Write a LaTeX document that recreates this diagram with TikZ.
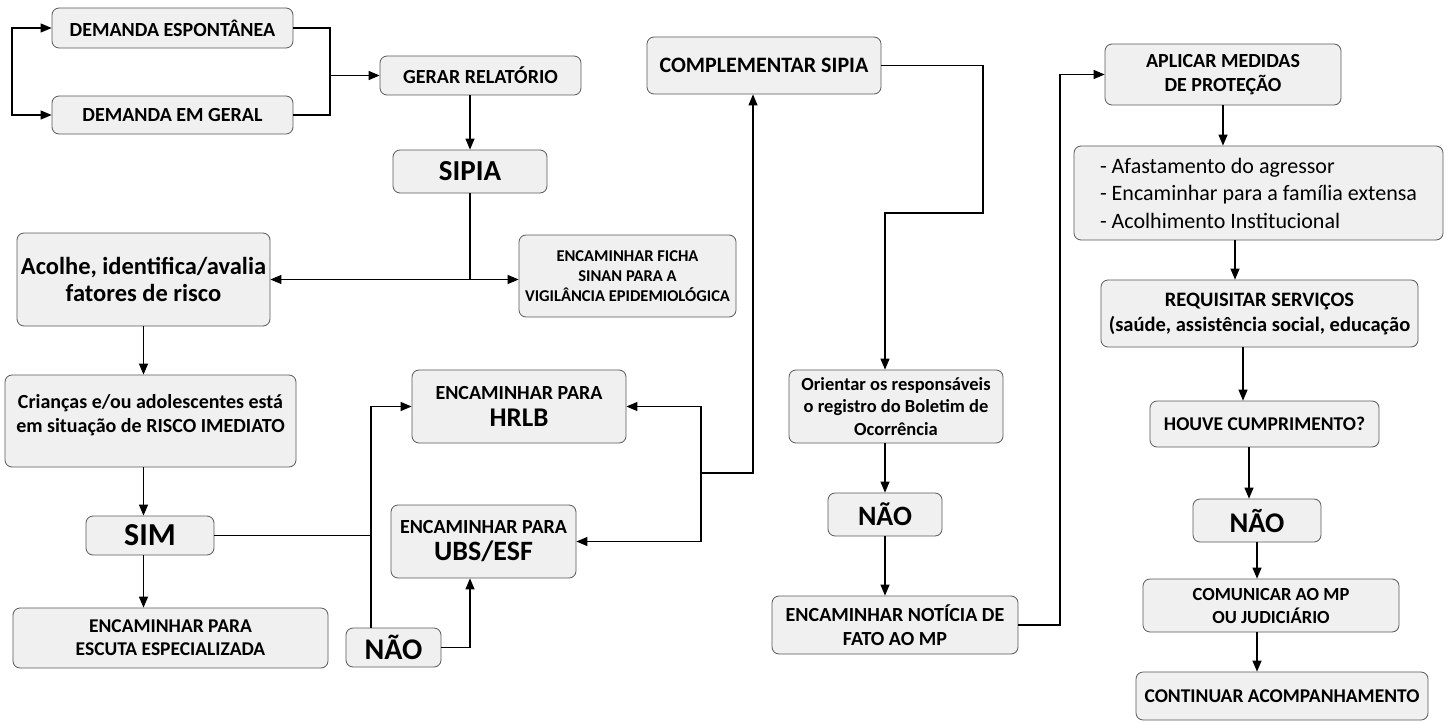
\documentclass[tikz,border=0pt]{standalone}
\usepackage{fontspec}
\setmainfont{Carlito}
\usetikzlibrary{arrows.meta,calc}

\newcommand{\fs}[2]{\fontsize{#1}{#2}\selectfont}

\tikzset{
  box/.style={draw=black!65, fill=black!6, rounded corners=7pt, line width=0.8pt,
    inner sep=0pt, align=center, font=\bfseries\fs{20}{24}},
  conn/.style={line width=1.2pt, black},
  arr/.style={conn, -{Triangle[length=11pt,width=9pt]}},
  dbl/.style={conn, {Triangle[length=11pt,width=9pt]}-{Triangle[length=11pt,width=9pt]}},
  txt/.style={inner sep=0pt, align=center, font=\bfseries\fs{20}{24}},
}

\begin{document}
\begin{tikzpicture}[x=1pt,y=-1pt]
\fill[white] (0,0) rectangle (1455,722);
\useasboundingbox (0,0) rectangle (1455,722);

% ---------- entry column ----------
\node[box, minimum width=241, minimum height=40] (es) at (172.5,28) {DEMANDA ESPONTÂNEA};
\node[box, minimum width=241, minimum height=38] (ge) at (172.5,115) {DEMANDA EM GERAL};
\node[box, minimum width=201, minimum height=39] (gerar) at (480.5,75.5) {GERAR RELATÓRIO};
\node[box, minimum width=154, minimum height=43, font=\bfseries\fs{29}{34}] (sipia) at (470,171.5) {SIPIA};
\node[box, minimum width=253, minimum height=93, font=\bfseries\fs{24.5}{27}] (acolhe) at (143.5,279.5) {Acolhe, identifica/avalia\\fatores de risco};
\node[box, minimum width=217, minimum height=82, font=\bfseries\fs{16.5}{20}] (ficha) at (627.5,276) {ENCAMINHAR FICHA\\SINAN PARA A\\VIGILÂNCIA EPIDEMIOLÓGICA};

% ---------- risk assessment ----------
\node[box, minimum width=291, minimum height=92] (crianca) at (150.5,421) {};
\node[txt] (criancatxt) at (150.5,415) {Crianças e/ou adolescentes está\\em situação de RISCO IMEDIATO};
\node[box, minimum width=128, minimum height=39, font=\bfseries\fs{32}{34}] (sim) at (150,535.5) {SIM};
\node[box, minimum width=315, minimum height=60, font=\bfseries\fs{19.5}{23}] (escuta) at (170.5,638) {ENCAMINHAR PARA\\ESCUTA ESPECIALIZADA};
\node[box, minimum width=214, minimum height=73] (hrlb) at (519,406.5) {ENCAMINHAR PARA\\[3pt]{\fs{27}{30}HRLB}};
\node[box, minimum width=185, minimum height=73] (ubs) at (483.5,541.5) {ENCAMINHAR PARA\\[3pt]{\fs{28}{30}UBS/ESF}};
\node[box, minimum width=95, minimum height=39, font=\bfseries\fs{30}{34}] (nao1) at (393.5,647.5) {NÃO};

% ---------- notification column ----------
\node[box, minimum width=234, minimum height=57, font=\bfseries\fs{22}{26}] (comp) at (764,65.5) {COMPLEMENTAR SIPIA};
\node[box, minimum width=214, minimum height=73, font=\bfseries\fs{18.5}{22.5}] (orient) at (896,406.5) {Orientar os responsáveis\\o registro do Boletim de\\Ocorrência};
\node[box, minimum width=114, minimum height=43, font=\bfseries\fs{28}{32}] (nao2) at (885,514.5) {NÃO};
\node[box, minimum width=246, minimum height=58] (noticia) at (895,625) {ENCAMINHAR NOTÍCIA DE\\FATO AO MP};

% ---------- protection column ----------
\node[box, minimum width=236, minimum height=61] (aplicar) at (1223,74.5) {APLICAR MEDIDAS\\DE PROTEÇÃO};
\node[box, minimum width=369, minimum height=94, align=left, font=\fs{22}{27.5}] (list) at (1258.5,193) {- Afastamento do agressor\\- Encaminhar para a família extensa\\- Acolhimento Institucional};
\node[box, minimum width=317, minimum height=67, font=\bfseries\fs{20.5}{25}] (req) at (1259.5,313.5) {REQUISITAR SERVIÇOS\\(saúde, assistência social, educação};
\node[box, minimum width=229, minimum height=46, font=\bfseries\fs{19.5}{23}] (houve) at (1264.5,424) {HOUVE CUMPRIMENTO?};
\node[box, minimum width=128, minimum height=43, font=\bfseries\fs{28.5}{32}] (nao3) at (1257,520.5) {NÃO};
\node[box, minimum width=256, minimum height=53, font=\bfseries\fs{18.5}{23}] (comunicar) at (1271,605.5) {COMUNICAR AO MP\\OU JUDICIÁRIO};
\node[box, minimum width=292, minimum height=48, font=\bfseries\fs{19.5}{23}] (continuar) at (1282,696) {CONTINUAR ACOMPANHAMENTO};

% ---------- helper x positions for routing ----------
\coordinate (lx) at (12,0);
\coordinate (rx) at (330,0);
\coordinate (vx) at (371,0);
\coordinate (ux) at (470,0);
\coordinate (bx) at (701,0);
\coordinate (cx) at (753,0);
\coordinate (kx) at (983,0);
\coordinate (ky) at (0,213);
\coordinate (by) at (0,473);
\coordinate (ax) at (1060,0);

% ---------- connectors ----------
\draw[dbl] (es.west) -| (lx |- es.west) |- (ge.west);
\draw[conn] (es.east) -| (rx |- gerar.west);
\draw[conn] (ge.east) -| (rx |- gerar.west);
\draw[arr] (rx |- gerar.west) -- (gerar.west);
\draw[arr] (sipia.north |- gerar.south) -- (sipia.north);

\coordinate (sj) at (sipia.south |- acolhe.east);
\draw[conn] (sipia.south) -- (sj);
\draw[arr] (sj) -- (acolhe.east);
\draw[arr] (sj) -- (ficha.west |- sj);

\draw[arr] (acolhe.south) -- (acolhe.south |- crianca.north);
\draw[arr] (acolhe.south |- crianca.south) -- (acolhe.south |- sim.north);
\draw[arr] (acolhe.south |- sim.south) -- (acolhe.south |- escuta.north);

\draw[conn] (sim.east) -- (vx |- sim.east);
\draw[arr] (vx |- nao1.north) |- (hrlb.west);
\draw[arr] (nao1.east) -| (ux |- ubs.south);

\coordinate (bj) at (bx |- by);
\draw[arr] (bj) |- (hrlb.east);
\draw[arr] (bj) |- (ubs.east);
\draw[arr] (bj) -| (cx |- comp.south);

\draw[arr] (comp.east) -| (kx |- ky) -| (nao2.north |- orient.north);
\draw[arr] (nao2.north |- orient.south) -- (nao2.north);
\draw[arr] (nao2.south) -- (nao2.south |- noticia.north);

\draw[arr] (noticia.east) -| (ax |- aplicar.west) -- (aplicar.west);
\draw[arr] (aplicar.south) -- (aplicar.south |- list.north);
\draw[arr] ([xshift=-23.5pt]list.south) -- ([xshift=-23.5pt]list.south |- req.north);
\draw[arr] ([xshift=-16.5pt]req.south) -- ([xshift=-16.5pt]req.south |- houve.north);
\draw[arr] ([xshift=-15.5pt]houve.south) -- ([xshift=-15.5pt]houve.south |- nao3.north);
\draw[arr] (nao3.south) -- (nao3.south |- comunicar.north);
\draw[arr] (nao3.south |- comunicar.south) -- (nao3.south |- continuar.north);
\end{tikzpicture}
\end{document}
